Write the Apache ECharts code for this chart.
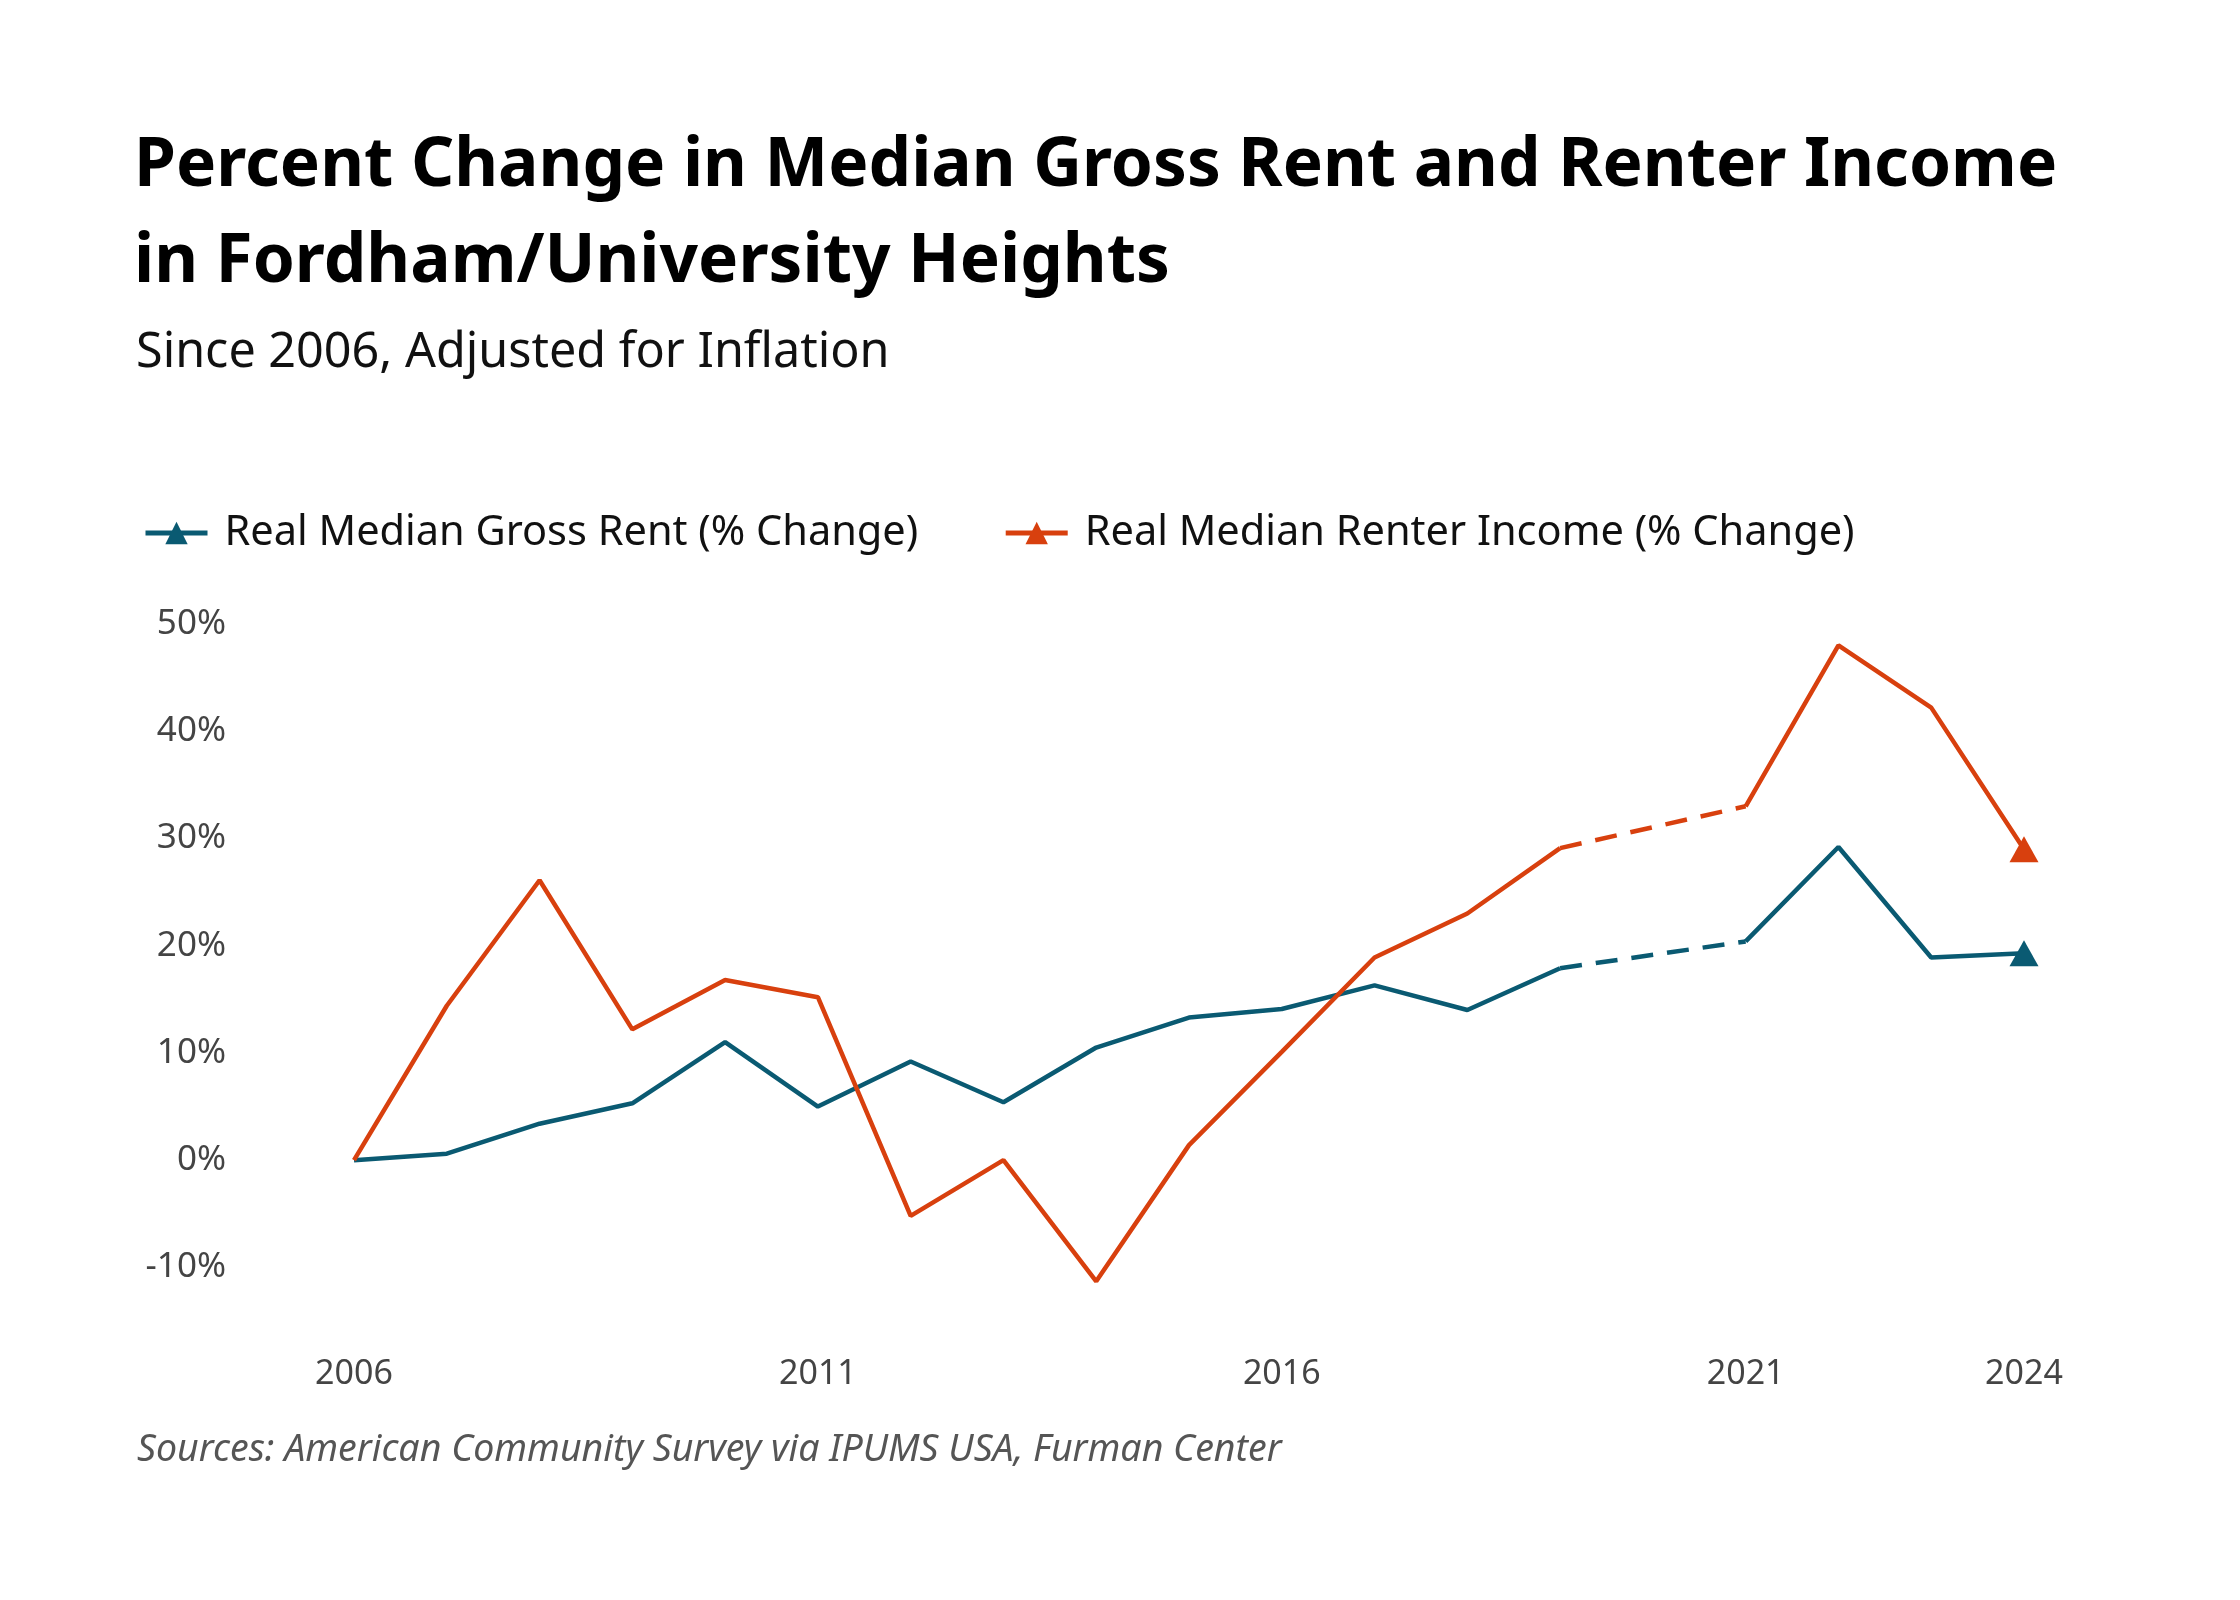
<!DOCTYPE html>
<html>
<head>
<meta charset="utf-8">
<script src="https://cdn.jsdelivr.net/npm/echarts@6/dist/echarts.min.js"></script>
<style>
  html, body { margin: 0; padding: 0; background: #fff; }
  #chart { width: 2240px; height: 1600px; }
</style>
</head>
<body>
<div id="chart"></div>
<script>
// years on the x axis (2020 has no data, bridged with a dashed line)
var years = ['2006','2007','2008','2009','2010','2011','2012','2013','2014','2015',
             '2016','2017','2018','2019','2020','2021','2022','2023','2024'];
var shownYears = ['2006', '2011', '2016', '2021', '2024'];

// % change since 2006
var rentChange = [0, 0.6, 3.4, 5.3, 11.0, 5.0, 9.2, 5.4, 10.5, 13.3,
                  14.1, 16.3, 14.0, 17.9, null, 20.4, 29.2, 18.9, 19.3];
var incomeChange = [0, 14.4, 26.1, 12.2, 16.8, 15.2, -5.2, 0, -11.3, 1.4,
                    10.1, 18.9, 23.0, 29.1, null, 33.0, 48.0, 42.2, 29.0];

var rentName = 'Real Median Gross Rent (% Change)';
var incomeName = 'Real Median Renter Income (% Change)';
var teal = '#0a5a72';
var orange = '#d8400e';

// the dashed bridge only keeps the two ends around the gap
function bridge(arr) {
    var gap = years.indexOf('2020');
    return arr.map(function (v, i) {
        return (i === gap - 1 || i === gap + 1) ? v : null;
    });
}

var last = years.length - 1;
function endSymbol(val, params) {
    return params.dataIndex === last ? [29, 26] : 0;
}

var chartDom = document.getElementById('chart');
var myChart = echarts.init(chartDom);
var font = '"Noto Sans", sans-serif';

var option = {
    backgroundColor: '#fff',
    animation: false,
    title: [
        {
            text: 'Percent Change in Median Gross Rent and Renter Income\nin Fordham/University Heights',
            left: 129,
            top: 114,
            textStyle: { fontFamily: font, fontSize: 67.5, fontWeight: 'bold', color: '#000', lineHeight: 96 }
        },
        {
            text: 'Since 2006, Adjusted for Inflation',
            left: 131,
            top: 324,
            textStyle: { fontFamily: font, fontSize: 48.5, fontWeight: 'normal', color: '#111' }
        },
        {
            text: 'Sources: American Community Survey via IPUMS USA, Furman Center',
            left: 132,
            top: 1426,
            textStyle: { fontFamily: font, fontSize: 37.5, fontStyle: 'italic', fontWeight: 'normal', color: '#555' }
        }
    ],
    legend: {
        data: [rentName, incomeName],
        left: 138,
        top: 507,
        itemWidth: 62,
        itemHeight: 28,
        itemGap: 85,
        lineStyle: { width: 5 },
        textStyle: { fontFamily: font, fontSize: 41.5, color: '#111', padding: [0, 0, 0, 12] }
    },
    grid: { left: 354, right: 216, top: 624, bottom: 279, containLabel: false },
    xAxis: {
        type: 'category',
        data: years,
        boundaryGap: false,
        axisLine: { show: false },
        axisTick: { show: false },
        axisLabel: {
            margin: 36,
            fontFamily: font,
            fontSize: 34,
            color: '#444',
            interval: function (idx, val) { return shownYears.indexOf(val) >= 0; }
        },
        splitLine: { show: false }
    },
    yAxis: {
        type: 'value',
        min: -15,
        max: 50,
        interval: 5,
        axisLine: { show: false },
        axisTick: { show: false },
        splitLine: { show: false },
        axisLabel: {
            margin: 128,
            fontFamily: font,
            fontSize: 35,
            color: '#444',
            formatter: function (v) { return v % 10 === 0 ? v + '%' : ''; }
        }
    },
    series: [
        {
            name: rentName,
            type: 'line',
            data: rentChange,
            color: teal,
            symbol: 'triangle',
            symbolSize: endSymbol,
            showSymbol: true,
            lineStyle: { width: 4.5, color: teal },
            itemStyle: { color: teal }
        },
        {
            name: rentName + ' bridge',
            type: 'line',
            data: bridge(rentChange),
            connectNulls: true,
            symbol: 'none',
            lineStyle: { width: 4.5, color: teal, type: [22, 14] }
        },
        {
            name: incomeName,
            type: 'line',
            data: incomeChange,
            color: orange,
            symbol: 'triangle',
            symbolSize: endSymbol,
            showSymbol: true,
            lineStyle: { width: 4.5, color: orange },
            itemStyle: { color: orange }
        },
        {
            name: incomeName + ' bridge',
            type: 'line',
            data: bridge(incomeChange),
            connectNulls: true,
            symbol: 'none',
            lineStyle: { width: 4.5, color: orange, type: [22, 14] }
        }
    ]
};

myChart.setOption(option);
</script>
</body>
</html>
